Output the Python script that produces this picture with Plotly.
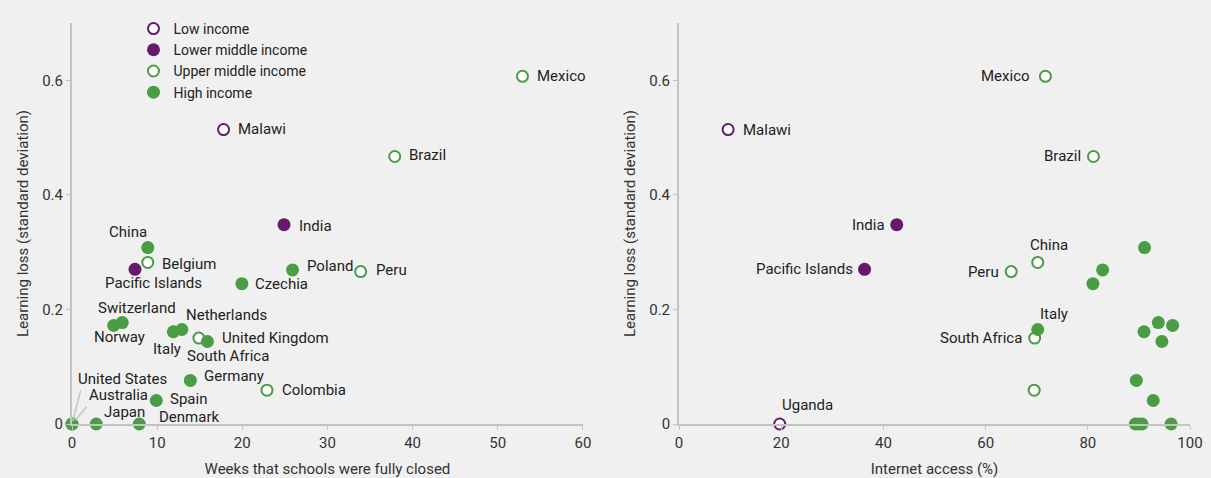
import plotly.graph_objects as go

# ---- data ----
countries = ["Malawi", "Uganda", "India", "Pacific Islands", "Mexico", "Brazil", "China",
             "Peru", "South Africa", "Colombia", "Belgium", "Poland", "Czechia",
             "Switzerland", "Norway", "Netherlands", "Italy", "United Kingdom",
             "Germany", "Spain", "United States", "Australia", "Japan", "Denmark"]
income = ["Low income", "Low income", "Lower middle income", "Lower middle income",
          "Upper middle income", "Upper middle income", "Upper middle income",
          "Upper middle income", "Upper middle income", "Upper middle income",
          "High income", "High income", "High income", "High income", "High income",
          "High income", "High income", "High income", "High income", "High income",
          "High income", "High income", "High income", "High income"]
weeks_closed = [17.8, None, 24.9, 7.4, 52.9, 37.9, 8.9, 33.9, 14.9, 22.9, 8.9, 25.9, 19.95,
                5.9, 4.9, 11.9, 12.9, 15.9, 13.9, 9.9, 0, 0, 2.85, 7.9]
internet_access = [9.6, 19.7, 42.6, 36.3, 71.7, 81.1, 70.2, 65.0, 69.6, 69.5, 91.1, 82.9, 81.0,
                   93.8, 96.6, 91.0, 70.2, 94.5, 89.5, 92.8, 89.3, 89.9, 90.6, 96.3]
learning_loss = [0.514, 0, 0.348, 0.270, 0.607, 0.467, 0.282, 0.266, 0.150, 0.059, 0.308,
                 0.269, 0.245, 0.177, 0.172, 0.161, 0.165, 0.144, 0.076, 0.041, 0, 0, 0, 0]
groups = ["Low income", "Lower middle income", "Upper middle income", "High income"]

# ---- styles ----
PURPLE = "#661a6c"
GREEN = "#4a9c45"
group_style = {
    "Low income": dict(color="white", size=11, line=dict(color=PURPLE, width=2)),
    "Lower middle income": dict(color=PURPLE, size=13, line=dict(width=0)),
    "Upper middle income": dict(color="white", size=11, line=dict(color=GREEN, width=2)),
    "High income": dict(color=GREEN, size=13, line=dict(width=0)),
}

# label placement: (xanchor, xshift, yshift)
labels_left = {
    "Malawi": ("left", 12, 1), "Mexico": ("left", 13, 0), "Brazil": ("left", 12, 1),
    "India": ("left", 13, -1), "China": ("center", -20, 30), "Belgium": ("left", 12, -16),
    "Pacific Islands": ("center", 18, -14), "Poland": ("left", 12, 4),
    "Czechia": ("left", 11, 0), "Peru": ("left", 13, 2), "Switzerland": ("center", 15, 15),
    "Norway": ("center", 6, -12), "Netherlands": ("left", 11, 17), "Italy": ("center", -15, -20),
    "South Africa": ("left", -14, -18), "United Kingdom": ("left", 13, 4),
    "Germany": ("left", 12, 4), "Colombia": ("left", 13, 0), "Spain": ("left", 12, 2),
    "United States": ("left", 4, 45), "Australia": ("left", 15, 29),
    "Japan": ("left", 6, 12), "Denmark": ("left", 18, 7),
}
labels_right = {
    "Malawi": ("left", 13, 0), "Mexico": ("right", -13, 0), "Brazil": ("right", -10, 0),
    "India": ("right", -10, 0), "Pacific Islands": ("right", -10, 0), "Uganda": ("left", 0, 19),
    "China": ("center", 11, 17), "Peru": ("right", -10, 0), "Italy": ("left", 0, 15),
    "South Africa": ("right", -11, 0),
}

FONT = "Roboto, 'Open Sans', sans-serif"
fig = go.Figure()

for g in groups:
    idx = [i for i, inc in enumerate(income) if inc == g]
    lx = [weeks_closed[i] for i in idx if weeks_closed[i] is not None]
    ly = [learning_loss[i] for i in idx if weeks_closed[i] is not None]
    fig.add_trace(go.Scatter(x=lx, y=ly, mode="markers", name=g, legendgroup=g,
                             marker=group_style[g], cliponaxis=False,
                             xaxis="x", yaxis="y", hoverinfo="skip"))
    fig.add_trace(go.Scatter(x=[internet_access[i] for i in idx],
                             y=[learning_loss[i] for i in idx], mode="markers", name=g,
                             legendgroup=g, showlegend=False, marker=group_style[g],
                             cliponaxis=False, xaxis="x2", yaxis="y2", hoverinfo="skip"))

annotations = []
for name, (anchor, dx, dy) in labels_left.items():
    i = countries.index(name)
    annotations.append(dict(x=weeks_closed[i], y=learning_loss[i], xref="x", yref="y",
                            text=name, showarrow=False, xanchor=anchor, yanchor="middle",
                            xshift=dx, yshift=dy))
for name, (anchor, dx, dy) in labels_right.items():
    i = countries.index(name)
    annotations.append(dict(x=internet_access[i], y=learning_loss[i], xref="x2", yref="y2",
                            text=name, showarrow=False, xanchor=anchor, yanchor="middle",
                            xshift=dx, yshift=dy))

# leader lines for the labels at the origin
for name, ax, ay, stand in [("United States", 9, -35, 3), ("Australia", 16, -19, 5)]:
    i = countries.index(name)
    annotations.append(dict(x=weeks_closed[i], y=learning_loss[i], xref="x", yref="y",
                            text="", showarrow=True, arrowhead=0, arrowwidth=1.5,
                            arrowcolor="#c4c4c4", ax=ax, ay=ay, standoff=stand))

axis_common = dict(showline=True, linecolor="#c4c4c4", linewidth=2, ticks="outside",
                   ticklen=4, tickcolor="#c4c4c4", tickwidth=1, showgrid=False,
                   zeroline=False, automargin=False,
                   tickfont=dict(size=15, color="#333333"),
                   title_font=dict(size=15, color="#333333"))

fig.update_layout(
    width=1211, height=478,
    margin=dict(l=72, r=21, t=23, b=54),
    paper_bgcolor="#f0f0f0", plot_bgcolor="#f0f0f0",
    font=dict(family=FONT, size=15, color="#222222"),
    showlegend=True,
    legend=dict(x=0.055, y=1.025, xanchor="left", yanchor="top", bgcolor="rgba(0,0,0,0)",
                font=dict(size=14, color="#222222"), tracegroupgap=0),
    xaxis=dict(domain=[0, 0.457], range=[0, 60], tickvals=[0, 10, 20, 30, 40, 50, 60],
               title_text="Weeks that schools were fully closed", anchor="y", **axis_common),
    yaxis=dict(range=[0, 0.7], tickvals=[0, 0.2, 0.4, 0.6], title_standoff=10,
               title_text="Learning loss (standard deviation)", anchor="x", **axis_common),
    xaxis2=dict(domain=[0.543, 1], range=[0, 100], tickvals=[0, 20, 40, 60, 80, 100],
                title_text="Internet access (%)", anchor="y2", **axis_common),
    yaxis2=dict(range=[0, 0.7], tickvals=[0, 0.2, 0.4, 0.6], title_standoff=10,
                title_text="Learning loss (standard deviation)", anchor="x2", **axis_common),
    annotations=annotations,
)

fig.write_html("out.html", config={"displayModeBar": False},
               post_script="document.body.style.margin='0px';"
                           "document.body.style.overflow='hidden';"
                           "document.body.style.background='#f0f0f0';")
